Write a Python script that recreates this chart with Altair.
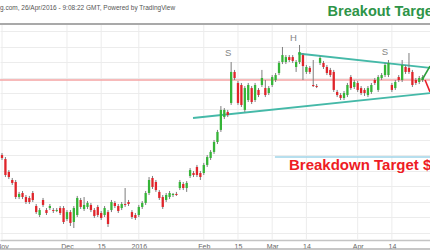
import altair as alt
import pandas as pd

# ---- daily candles, one entry per session (session 0 = first bar in November) ----
opens = [25.03, 24.77, 23.94, 23.42, 23.29, 22.32, 22.58, 22.32, 22.26, 22.58,
         21.74, 21.16, 22.13, 21.48, 21.61, 21.48, 21.42, 21.61, 21.61, 20.90,
         21.35, 20.71, 21.16, 22.13, 21.55, 21.68, 21.81, 21.48, 21.68, 21.29,
         21.16, 21.35, 21.48, 21.94, 21.74, 21.61, 21.87, 22.00, 21.35, 21.16,
         21.16, 21.68, 21.94, 22.58, 23.55, 23.29, 22.65, 22.32, 22.13, 22.32,
         22.45, 22.52, 22.90, 23.16, 22.90, 23.68, 23.87, 24.26, 23.87, 23.87,
         24.39, 24.84, 25.23, 25.87, 26.65, 27.48, 27.81, 28.39, 30.39, 29.68,
         29.55, 27.94, 28.58, 29.35, 28.58, 29.23, 29.55, 29.35, 29.03, 29.55,
         29.87, 30.32, 31.03, 31.03, 31.35, 31.35, 30.71, 31.03, 31.48, 30.39,
         30.65, 29.55, 29.48, 30.97, 30.97, 30.71, 30.52, 30.39, 29.10, 28.90,
         28.71, 28.90, 30.06, 29.42, 29.68, 29.35, 29.23, 28.90, 29.10, 29.87,
         29.23, 30.00, 30.19, 30.19, 29.55, 29.35, 30.06, 29.87, 30.71, 30.65,
         30.39, 29.87, 29.74, 29.87]
highs = [25.16, 24.90, 24.06, 23.55, 23.42, 22.65, 22.71, 22.45, 22.39, 22.71,
         21.87, 21.61, 22.26, 21.61, 21.87, 21.61, 21.61, 21.74, 21.74, 21.48,
         21.48, 21.74, 22.39, 22.26, 22.32, 22.06, 21.94, 21.61, 21.81, 21.42,
         21.74, 21.48, 22.13, 22.06, 21.87, 22.00, 22.90, 22.13, 21.48, 21.29,
         21.81, 22.06, 22.71, 23.61, 23.68, 23.42, 22.77, 22.45, 22.58, 22.71,
         22.58, 22.65, 23.42, 23.29, 23.35, 24.19, 24.00, 24.39, 24.00, 24.52,
         25.03, 25.35, 26.00, 26.65, 28.19, 28.06, 27.94, 31.03, 30.52, 29.81,
         29.68, 29.48, 29.68, 29.48, 29.68, 29.35, 30.52, 29.87, 29.48, 30.19,
         30.32, 31.10, 32.00, 31.48, 31.48, 31.48, 31.16, 32.13, 31.61, 30.84,
         30.77, 31.16, 29.61, 31.42, 31.10, 30.84, 30.65, 30.52, 29.23, 29.03,
         29.16, 29.68, 30.19, 29.87, 29.81, 29.48, 29.35, 29.48, 29.68, 30.00,
         30.19, 30.32, 30.97, 31.16, 29.68, 29.87, 30.19, 31.16, 30.84, 31.61,
         30.52, 30.00, 30.13, 30.19]
lows = [24.71, 23.61, 23.48, 23.10, 22.19, 22.19, 22.19, 21.87, 21.87, 22.00,
        21.23, 21.03, 21.68, 21.16, 21.48, 21.29, 21.35, 21.16, 20.58, 20.77,
        20.45, 20.32, 21.03, 21.55, 21.42, 21.55, 21.35, 20.97, 21.03, 20.84,
        21.03, 20.39, 21.35, 21.61, 21.29, 21.48, 21.68, 21.74, 20.90, 20.84,
        21.03, 21.55, 21.81, 22.45, 22.84, 22.65, 22.13, 21.55, 22.00, 22.19,
        22.32, 22.39, 22.77, 22.77, 22.65, 23.55, 23.61, 23.61, 23.42, 23.74,
        24.26, 24.71, 25.10, 25.74, 26.52, 27.35, 27.48, 28.26, 29.87, 28.26,
        28.13, 27.81, 28.45, 28.32, 28.45, 28.77, 29.42, 28.77, 28.90, 29.42,
        29.74, 30.19, 30.90, 30.90, 31.03, 30.97, 30.39, 30.90, 29.87, 30.26,
        30.26, 29.42, 29.35, 30.84, 30.58, 30.19, 30.06, 29.10, 28.77, 28.58,
        28.58, 28.77, 29.23, 29.29, 29.10, 28.90, 28.84, 28.77, 28.97, 29.55,
        29.10, 29.87, 30.06, 30.06, 29.10, 29.23, 29.74, 29.74, 30.26, 30.26,
        29.42, 29.55, 29.61, 29.74]
closes = [24.84, 23.74, 23.61, 23.23, 22.32, 22.52, 22.32, 22.00, 22.00, 22.13,
          21.35, 21.48, 21.81, 21.29, 21.74, 21.42, 21.48, 21.29, 20.71, 21.35,
          20.65, 21.61, 22.26, 21.68, 21.81, 21.94, 21.48, 21.10, 21.16, 20.97,
          21.61, 20.58, 22.00, 21.74, 21.42, 21.87, 21.81, 21.87, 21.03, 20.97,
          21.68, 21.94, 22.58, 23.42, 22.97, 22.77, 22.26, 21.68, 22.45, 22.58,
          22.52, 22.45, 23.29, 22.90, 23.23, 24.06, 23.74, 23.74, 23.61, 24.39,
          24.90, 25.23, 25.87, 26.52, 27.94, 27.94, 27.61, 30.39, 30.00, 28.39,
          28.26, 29.35, 29.55, 28.45, 29.55, 28.90, 30.00, 28.90, 29.35, 30.06,
          30.19, 30.97, 31.48, 31.35, 31.16, 31.10, 31.03, 31.68, 30.77, 30.71,
          30.39, 29.48, 29.42, 31.29, 30.71, 30.32, 30.19, 29.23, 28.90, 28.71,
          29.03, 29.55, 29.35, 29.74, 29.23, 29.03, 29.03, 29.35, 29.55, 29.68,
          30.06, 30.19, 30.84, 30.97, 29.23, 29.74, 29.87, 30.84, 30.39, 30.39,
          29.55, 29.68, 30.00, 30.06]

# ---- time axis: sessions that carry a label ----
tick_sessions = [0, 19, 29, 40, 59, 69, 79, 89, 104, 114]
tick_labels = ["Nov", "Dec", "15", "2016", "Feb", "15", "Mar", "14", "Apr", "14"]

# ---- price grid ----
grid_prices = list(range(20, 34))

# ---- drawn annotations (session, price) ----
resistance_price = 29.87
target_sessions = [79.8, 125.2]
target_prices = [24.90, 24.90]
lower_trend_sessions = [55.85, 125.15]
lower_trend_prices = [27.42, 29.03]
upper_trend_sessions = [86.55, 125.15]
upper_trend_prices = [31.58, 30.65]
up_arrow_sessions = [122.8, 125.15]
up_arrow_prices = [29.87, 30.77]
down_arrow_sessions = [123.7, 125.15]
down_arrow_prices = [29.87, 29.10]
pattern_labels = ["S", "H", "S"]
pattern_sessions = [66.1, 85.2, 112.0]
pattern_prices = [31.61, 32.61, 31.65]

# pane geometry in data units
X_DOMAIN = [-0.585, 125.146]
Y_DOMAIN = [19.548, 35.032]
PANE_TOP = 33.48
PANE_BOTTOM = 19.548
FRAME_BOTTOM = 18.97

GREEN = "#35b437"
RED = "#e0242a"
TEAL = "#45b9a8"
FONT = "Liberation Sans"

candles = pd.DataFrame({
    "s": list(range(len(opens))),
    "open": opens, "high": highs, "low": lows, "close": closes,
})
candles["dir"] = ["up" if c >= o else "down" for o, c in zip(opens, closes)]

label_expr = " : ".join(
    f"datum.value == {s} ? '{t}'" for s, t in zip(tick_sessions, tick_labels)
) + " : ''"

xscale = alt.Scale(domain=X_DOMAIN, nice=False, zero=False)
yscale = alt.Scale(domain=Y_DOMAIN, nice=False, zero=False)
xaxis = alt.Axis(values=tick_sessions, labelExpr=label_expr, grid=False, ticks=False,
                 domainColor="#c4c4c4", domainWidth=1.5, labelFontSize=7,
                 labelColor="#666666", labelFont=FONT, labelPadding=2,
                 labelOverlap=False, labelFlush=False, title=None)
yaxis = alt.Axis(values=grid_prices, grid=True, gridColor="#ececec", gridWidth=1,
                 labels=False, ticks=False, domain=False, title=None, orient="right")


def X(field):
    return alt.X(f"{field}:Q", scale=xscale, axis=xaxis)


def Y(field):
    return alt.Y(f"{field}:Q", scale=yscale, axis=yaxis)


# vertical grid lines at the labelled sessions
vgrid = alt.Chart(pd.DataFrame({"s": tick_sessions, "lo": PANE_BOTTOM, "hi": PANE_TOP})).mark_rule(
    color="#ececec", strokeWidth=1
).encode(x=X("s"), y=Y("lo"), y2="hi")

resistance = alt.Chart(pd.DataFrame({"p": [resistance_price]})).mark_rule(
    color="#f4a3a3", strokeWidth=1.3
).encode(y=Y("p"))

target = alt.Chart(pd.DataFrame({"s": target_sessions, "p": target_prices})).mark_line(
    color="#9fd4e8", strokeWidth=1.6
).encode(x=X("s"), y=Y("p"))


def segment(sessions, prices, color, width):
    return alt.Chart(pd.DataFrame({"s": sessions, "p": prices})).mark_line(
        color=color, strokeWidth=width
    ).encode(x=X("s"), y=Y("p"))


lower_trend = segment(lower_trend_sessions, lower_trend_prices, TEAL, 1.8)
upper_trend = segment(upper_trend_sessions, upper_trend_prices, TEAL, 1.8)
up_arrow = segment(up_arrow_sessions, up_arrow_prices, "#2e9e3e", 1.6)
down_arrow = segment(down_arrow_sessions, down_arrow_prices, "#e8202a", 1.6)

color = alt.Color("dir:N", scale=alt.Scale(domain=["up", "down"], range=[GREEN, RED]), legend=None)

wicks = alt.Chart(candles).mark_rule(color="#7d7d7d", strokeWidth=1).encode(
    x=X("s"), y=Y("low"), y2="high"
)
bodies = alt.Chart(candles).mark_rule(strokeWidth=2.3).encode(
    x=X("s"), y=Y("open"), y2="close", color=color
)

patterns = alt.Chart(pd.DataFrame({"s": pattern_sessions, "p": pattern_prices, "t": pattern_labels})).mark_text(
    font=FONT, fontSize=9.5, color="#858585", baseline="middle", align="center"
).encode(x=X("s"), y=Y("p"), text="t:N")

breakdown = alt.Chart(pd.DataFrame({"s": [83.92], "p": [24.065], "t": ["Breakdown Target $"]})).mark_text(
    font=FONT, fontSize=15, fontWeight="bold", color="#ee1c24", align="left", baseline="alphabetic"
).encode(x=X("s"), y=Y("p"), text="t:N")

breakout = alt.Chart(pd.DataFrame({"s": [95.2], "p": [33.968], "t": ["Breakout Target $"]})).mark_text(
    font=FONT, fontSize=14.5, fontWeight="bold", color="#2e9448", align="left", baseline="alphabetic"
).encode(x=X("s"), y=Y("p"), text="t:N")

header = alt.Chart(pd.DataFrame({"s": [X_DOMAIN[0]], "p": [34.548],
                                 "t": ["g.com, 26/Apr/2016 - 9:08:22 GMT, Powered by TradingView"]})).mark_text(
    font=FONT, fontSize=6.5, color="#555555", align="left", baseline="middle"
).encode(x=X("s"), y=Y("p"), text="t:N")

pane_top = alt.Chart(pd.DataFrame({"p": [PANE_TOP]})).mark_rule(
    color="#a9a9a9", strokeWidth=2
).encode(y=Y("p"))
frame_bottom = alt.Chart(pd.DataFrame({"p": [FRAME_BOTTOM]})).mark_rule(
    color="#b5b5b5", strokeWidth=1.5
).encode(y=Y("p"))

chart = alt.layer(
    vgrid, resistance, target, lower_trend, upper_trend,
    wicks, bodies, up_arrow, down_arrow,
    patterns, breakdown, pane_top, header, breakout, frame_bottom,
).properties(
    width=430, height=240,
    padding={"left": 0, "top": 0, "right": 0, "bottom": 10},
    autosize=alt.AutoSizeParams(type="none"),
    background="white",
).configure_view(stroke=None)

chart.save("out.html", embed_options={"renderer": "svg", "actions": False})
